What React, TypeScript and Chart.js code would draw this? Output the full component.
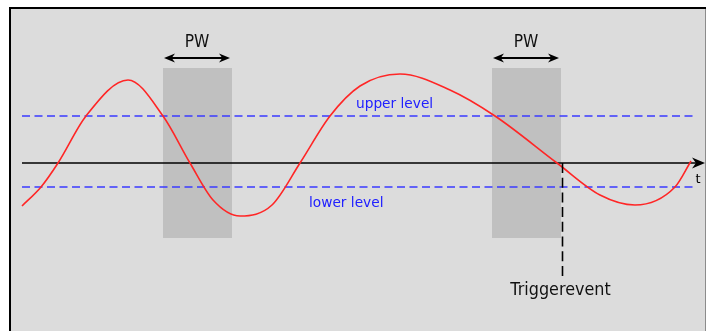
import { useEffect, useRef } from "react";
import { Chart, registerables } from "chart.js";

Chart.register(...registerables);

// ---- data (arbitrary time units 0..670, arbitrary signal units; axis = 0) ----
const curveTime = [0, 19, 36, 64, 106, 141, 168, 191, 218, 250, 278, 308, 338, 378, 428, 473, 535, 578, 613, 653, 669];
const curveSignal = [-43, -24, 0, 47, 83, 47, 0, -37, -53, -42, 0, 47, 77, 89, 73, 47, 0, -32, -42, -24, 2];
const levelNames = ["upper level", "lower level"];
const levelValues = [47, -24];
const levelEnd = 675;
const axisEnd = 683;
const pulseStart = [141, 470];
const pulseEnd = [210, 539];
const pulseTop = 95;
const pulseBottom = -75;
const pulseLabel = "PW";
const triggerTime = 540;
const triggerBottom = -113;
const triggerLabel = "Triggerevent";
const axisLabel = "t";
const levelLabelTime = [334, 287];

function scaledText(ctx: CanvasRenderingContext2D, text: string, x: number, y: number, sx: number, align: CanvasTextAlign) {
  ctx.save();
  ctx.translate(x, y);
  ctx.scale(sx, 1);
  ctx.textAlign = align;
  ctx.textBaseline = "alphabetic";
  ctx.fillText(text, 0, 0);
  ctx.restore();
}

function stealthHead(ctx: CanvasRenderingContext2D, tipX: number, y: number, dir: number, len: number, half: number) {
  ctx.beginPath();
  ctx.moveTo(tipX, y);
  ctx.lineTo(tipX - dir * len, y - half);
  ctx.lineTo(tipX - dir * len * 0.7, y);
  ctx.lineTo(tipX - dir * len, y + half);
  ctx.closePath();
  ctx.fill();
}

const schematic = {
  id: "schematic",
  beforeDraw(chart: any) {
    const { ctx, width, height } = chart;
    const xs = chart.scales.x;
    const ys = chart.scales.y;
    ctx.save();
    ctx.fillStyle = "#ffffff";
    ctx.fillRect(0, 0, width, height);
    ctx.fillStyle = "#dcdcdc";
    ctx.fillRect(10, 9, 695, height - 9);
    ctx.fillStyle = "#000000";
    ctx.fillRect(9, 7, 697, 2);
    ctx.fillRect(9, 7, 2, height - 7);
    ctx.fillStyle = "#8c8c8c";
    ctx.fillRect(705, 9, 1, height - 9);
    ctx.fillStyle = "#c0c0c0";
    pulseStart.forEach((s, i) => {
      const l = xs.getPixelForValue(s);
      const r = xs.getPixelForValue(pulseEnd[i]);
      const t = ys.getPixelForValue(pulseTop);
      const b = ys.getPixelForValue(pulseBottom);
      ctx.fillRect(l, t, r - l, b - t);
    });
    ctx.restore();
  },
  afterDatasetsDraw(chart: any) {
    const { ctx } = chart;
    const xs = chart.scales.x;
    const ys = chart.scales.y;
    ctx.save();
    // axis arrow head and label
    const y0 = ys.getPixelForValue(0);
    const tip = xs.getPixelForValue(axisEnd);
    ctx.fillStyle = "#000000";
    stealthHead(ctx, tip, y0, 1, 13, 5.5);
    ctx.font = "13px 'DejaVu Sans'";
    scaledText(ctx, axisLabel, tip - 7, y0 + 20, 1, "center");

    // pulse width arrows + labels
    const arrowY = ys.getPixelForValue(pulseTop) - 10;
    ctx.strokeStyle = "#000000";
    ctx.lineWidth = 2;
    pulseStart.forEach((s, i) => {
      const l = xs.getPixelForValue(s) + 1;
      const r = xs.getPixelForValue(pulseEnd[i]) - 2;
      ctx.beginPath();
      ctx.moveTo(l + 6, arrowY);
      ctx.lineTo(r - 6, arrowY);
      ctx.stroke();
      stealthHead(ctx, r, arrowY, 1, 11, 4.5);
      stealthHead(ctx, l, arrowY, -1, 11, 4.5);
      ctx.font = "18px 'DejaVu Sans'";
      ctx.fillStyle = "#111111";
      scaledText(ctx, pulseLabel, (l + r) / 2, arrowY - 11.5, 0.86, "center");
      ctx.fillStyle = "#000000";
    });

    // trigger line
    const tx = Math.round(xs.getPixelForValue(triggerTime)) + 0.5;
    const tb = ys.getPixelForValue(triggerBottom);
    ctx.lineWidth = 1.6;
    ctx.setLineDash([10, 4.7]);
    ctx.beginPath();
    ctx.moveTo(tx, y0);
    ctx.lineTo(tx, tb);
    ctx.stroke();
    ctx.setLineDash([]);
    ctx.fillStyle = "#111111";
    ctx.font = "18px 'DejaVu Sans'";
    scaledText(ctx, triggerLabel, tx - 2, tb + 19, 0.89, "center");

    // level labels
    ctx.fillStyle = "#2020ff";
    ctx.font = "14px 'DejaVu Sans'";
    levelNames.forEach((name, i) => {
      const ly = ys.getPixelForValue(levelValues[i]);
      const off = i === 0 ? -8 : 20;
      scaledText(ctx, name, xs.getPixelForValue(levelLabelTime[i]), ly + off, 0.98, "left");
    });
    ctx.restore();
  },
};

export default function App() {
  const ref = useRef<HTMLCanvasElement | null>(null);
  useEffect(() => {
    if (!ref.current) return;
    const levelSets = levelValues.map((v, i) => ({
      label: levelNames[i],
      data: [
        { x: 0, y: v },
        { x: levelEnd, y: v },
      ],
      borderColor: "#3a3aff",
      borderWidth: 1.5,
      borderDash: [8, 4.5],
      pointRadius: 0,
      clip: false as any,
      order: 2,
    }));
    const chart = new Chart(ref.current, {
      type: "line",
      data: {
        datasets: [
          {
            label: "signal",
            data: curveTime.map((t, i) => ({ x: t, y: curveSignal[i] })),
            borderColor: "#ff2626",
            borderWidth: 1.6,
            pointRadius: 0,
            cubicInterpolationMode: "monotone",
            clip: false as any,
            order: 0,
          },
          ...levelSets,
          {
            label: "axis",
            data: [
              { x: 0, y: 0 },
              { x: axisEnd - 8, y: 0 },
            ],
            borderColor: "#000000",
            borderWidth: 1.5,
            pointRadius: 0,
            clip: false as any,
            order: 1,
          },
        ],
      },
      options: {
        animation: false,
        responsive: false,
        events: [],
        layout: { padding: { left: 22, right: 15, top: 69, bottom: 74 } },
        plugins: { legend: { display: false }, tooltip: { enabled: false } },
        scales: {
          x: { type: "linear", min: 0, max: 670, display: false },
          y: { type: "linear", min: -94, max: 94, display: false },
        },
      },
      plugins: [schematic],
    });
    return () => chart.destroy();
  }, []);
  return (
    <div style={{ position: "fixed", left: 0, top: 0, width: 707, height: 331, background: "#fff" }}>
      <canvas ref={ref} width={707} height={331} style={{ display: "block", width: 707, height: 331 }} />
    </div>
  );
}
